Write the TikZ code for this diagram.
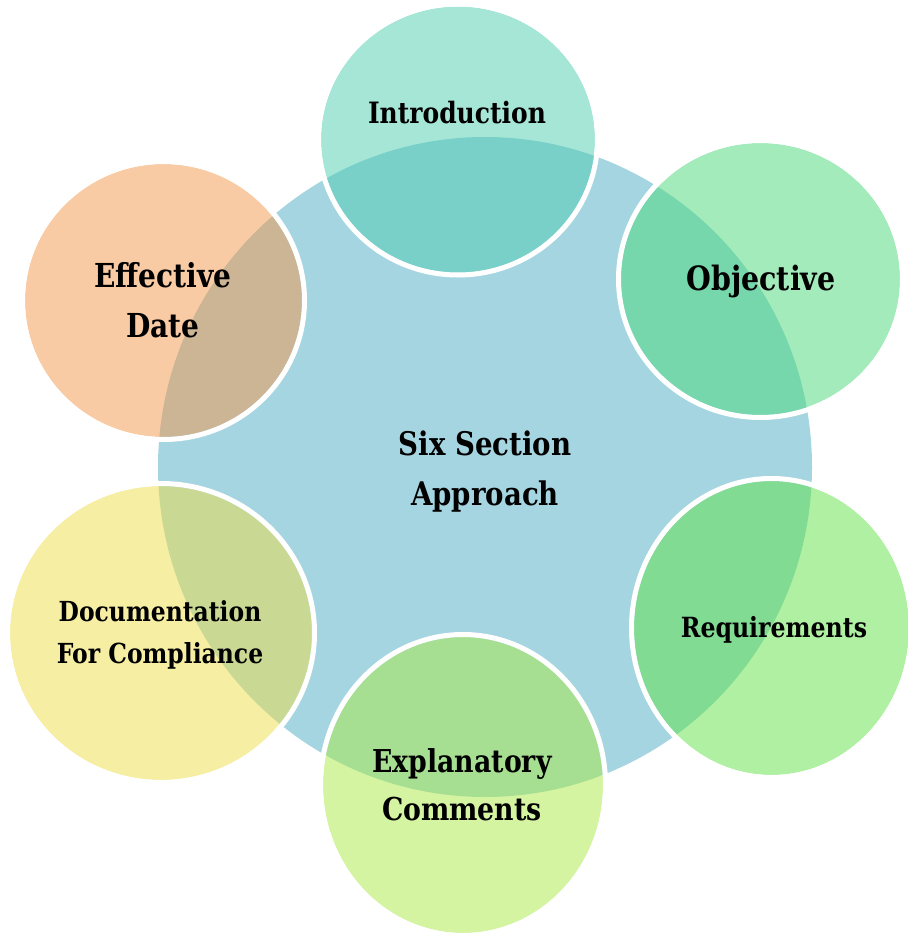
\documentclass[tikz,border=0pt]{standalone}
\usepackage{fontspec}
\newfontfamily\labelfont{DejaVu Serif}[FakeStretch=0.85]
\newcommand\lbsize[2]{\labelfont\bfseries\fontsize{#1}{#2}\selectfont}

% hub and petal colours (petals are laid at half opacity)
\definecolor{hubblue}{RGB}{166,213,226}
\definecolor{cIntro}{RGB}{75,205,175}
\definecolor{cObj}{RGB}{71,215,119}
\definecolor{cReq}{RGB}{95,225,69}
\definecolor{cExpl}{RGB}{169,233,67}
\definecolor{cDoc}{RGB}{237,221,71}
\definecolor{cEff}{RGB}{243,151,73}

\begin{document}
\begin{tikzpicture}[x=1pt,y=-1pt,
  petalfill/.style={fill=#1, fill opacity=0.5},
  petalring/.style={draw=white, line width=5},
  lab/.style={align=center, inner sep=0, anchor=base, text=black}]
\useasboundingbox (0,0) rectangle (907,933);

% central hub
\coordinate (hub) at (485,467);
\fill[hubblue] (hub) ellipse[x radius=327, y radius=330];

% petal centres
\coordinate (pIntro) at (458,139.5);
\coordinate (pObj)   at (760.5,279);
\coordinate (pReq)   at (771.5,628);
\coordinate (pExpl)  at (463,785);
\coordinate (pDoc)   at (161,633);
\coordinate (pEff)   at (163.5,300.5);

% petals: translucent disc with a white rim
\fill[petalfill=cIntro] (pIntro) ellipse[x radius=137, y radius=133];
\draw[petalring] (pIntro) ellipse[x radius=139.5, y radius=135.5];
\fill[petalfill=cObj] (pObj) ellipse[x radius=139.5, y radius=136];
\draw[petalring] (pObj) ellipse[x radius=142, y radius=138.5];
\fill[petalfill=cReq] (pReq) ellipse[x radius=137.5, y radius=147];
\draw[petalring] (pReq) ellipse[x radius=140, y radius=149.5];
\fill[petalfill=cExpl] (pExpl) ellipse[x radius=140, y radius=148];
\draw[petalring] (pExpl) ellipse[x radius=142.5, y radius=150.5];
\fill[petalfill=cDoc] (pDoc) ellipse[x radius=151, y radius=147];
\draw[petalring] (pDoc) ellipse[x radius=153.5, y radius=149.5];
\fill[petalfill=cEff] (pEff) ellipse[x radius=138.5, y radius=136.5];
\draw[petalring] (pEff) ellipse[x radius=141, y radius=139];

% labels (anchor is the baseline of the last line)
\node[lab, font=\lbsize{32.5}{50}] (tHub) at (485,505) {Six Section\\Approach};
\node[lab, font=\lbsize{29.4}{34}] (tIntro) at (457,124) {Introduction};
\node[lab, font=\lbsize{33.5}{40}] (tObj) at (761,290) {Objective};
\node[lab, font=\lbsize{27.8}{31}] (tReq) at (774,637) {Requirements};
\node[lab, font=\lbsize{31.5}{48}] (tExpl) at (462,820) {Explanatory\\Comments};
\node[lab, font=\lbsize{27.6}{41.7}] (tDoc) at (160,663) {Documentation\\For Compliance};
\node[lab, font=\lbsize{33}{50}] (tEff) at (163,337) {Effective\\Date};
\end{tikzpicture}
\end{document}
